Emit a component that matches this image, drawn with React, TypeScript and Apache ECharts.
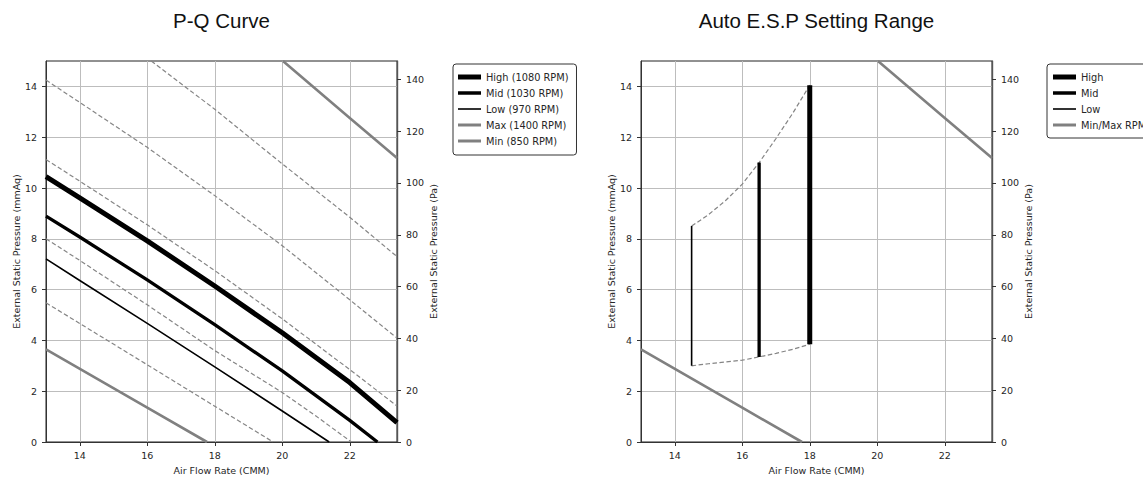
import React, { useEffect, useRef } from "react";
import * as echarts from "echarts";

// ---------- data ----------
const xTicks = [14, 16, 18, 20, 22];
const yTicksMm = [0, 2, 4, 6, 8, 10, 12, 14];
const yTicksPa = [0, 20, 40, 60, 80, 100, 120, 140];
const X_MIN = 13;
const X_MAX = 23.4;
const Y_MAX = 15;
const MM_TO_PA = 9.80665;

// P-Q curve (Air flow CMM, ESP mmAq)
const highCurve = [[13, 10.45], [14, 9.61], [16, 7.92], [18, 6.14], [20, 4.3], [22, 2.34], [23.4, 0.76]];
const midCurve = [[13, 8.89], [14, 8.07], [16, 6.38], [18, 4.62], [20, 2.8], [22, 0.85], [22.82, 0]];
const lowCurve = [[13, 7.21], [14, 6.36], [16, 4.67], [18, 2.96], [20, 1.22], [21.39, 0]];
const maxCurve = [[20.02, 15], [22, 12.76], [23.4, 11.18]];
const minCurve = [[13, 3.65], [16, 1.35], [17.77, 0]];

// additional dashed reference curves
const dashA = [[16.12, 15], [18, 13.1], [20, 10.95], [22, 8.85], [23.4, 7.3]];
const dashB = [[13, 14.25], [14, 13.37], [16, 11.6], [18, 9.7], [20, 7.73], [22, 5.6], [23.4, 4.09]];
const dashC = [[13, 11.12], [14, 10.27], [16, 8.55], [18, 6.75], [20, 4.85], [22, 2.85], [23.4, 1.42]];
const dashD = [[13, 8.0], [14, 7.15], [16, 5.4], [18, 3.6], [20, 1.95], [21, 1.02], [22.05, 0]];
const dashE = [[13, 5.48], [16, 3.04], [18, 1.41], [19.73, 0]];

// Auto E.S.P setting range
const lowRange = [[14.5, 3.0], [14.5, 8.5]];
const midRange = [[16.5, 3.35], [16.5, 11.0]];
const highRange = [[18, 3.85], [18, 14.05]];
const upperEnvelope = [[14.5, 8.5], [15, 8.95], [15.5, 9.5], [16, 10.15], [16.5, 11.0], [17, 11.95], [17.5, 12.95], [18, 14.05]];
const lowerEnvelope = [[14.5, 3.0], [15, 3.08], [15.5, 3.15], [16, 3.22], [16.5, 3.35], [17, 3.49], [17.5, 3.65], [18, 3.85]];

const titles = ["P-Q Curve", "Auto E.S.P Setting Range"];
const legendLeft = ["High (1080 RPM)", "Mid (1030 RPM)", "Low (970 RPM)", "Max (1400 RPM)", "Min (850 RPM)"];
const legendRight = ["High", "Mid", "Low", "Min/Max RPM"];

// ---------- styles ----------
const FONT = "DejaVu Sans";
const TXT = "#262626";
const GRAY = "#808080";
const DASH = "#858585";

const gridBoxes = [
  { left: 46, top: 61, width: 351, height: 382 },
  { left: 641, top: 61, width: 351, height: 382 },
];

function xAxisFor(gridIndex: number) {
  return {
    type: "value",
    gridIndex,
    min: X_MIN,
    max: X_MAX,
    name: "Air Flow Rate (CMM)",
    nameLocation: "middle",
    nameGap: 23,
    nameTextStyle: { fontFamily: FONT, fontSize: 9.5, color: TXT },
    axisLine: { show: true, onZero: false, lineStyle: { color: "#333", width: 1 } },
    axisTick: { show: true, length: 4, lineStyle: { color: "#333" }, customValues: xTicks },
    axisLabel: { fontFamily: FONT, fontSize: 9.5, color: TXT, margin: 8, customValues: xTicks },
    splitLine: { show: true, lineStyle: { color: "#bdbdbd", width: 1 } },
  };
}

function yLeftFor(gridIndex: number) {
  return {
    type: "value",
    gridIndex,
    position: "left",
    min: 0,
    max: Y_MAX,
    name: "External Static Pressure (mmAq)",
    nameLocation: "middle",
    nameRotate: 90,
    nameGap: 25,
    nameTextStyle: { fontFamily: FONT, fontSize: 9.5, color: TXT },
    axisLine: { show: true, onZero: false, lineStyle: { color: "#333", width: 1 } },
    axisTick: { show: true, length: 4, lineStyle: { color: "#333" }, customValues: yTicksMm },
    axisLabel: { fontFamily: FONT, fontSize: 9.5, color: TXT, margin: 9, customValues: yTicksMm },
    splitLine: { show: true, lineStyle: { color: "#bdbdbd", width: 1 } },
  };
}

function yRightFor(gridIndex: number) {
  return {
    type: "value",
    gridIndex,
    position: "right",
    min: 0,
    max: Y_MAX * MM_TO_PA,
    name: "External Static Pressure (Pa)",
    nameLocation: "middle",
    nameRotate: 90,
    nameGap: 29,
    nameTextStyle: { fontFamily: FONT, fontSize: 9.5, color: TXT },
    axisLine: { show: true, onZero: false, lineStyle: { color: "#555", width: 1.4 } },
    axisTick: { show: true, length: 4, lineStyle: { color: "#333" }, customValues: yTicksPa },
    axisLabel: { fontFamily: FONT, fontSize: 9.5, color: TXT, margin: 9, customValues: yTicksPa },
    splitLine: { show: false },
  };
}

function lineSeries(name: string | undefined, data: number[][], color: string, width: number, xi: number, yi: number, dashed = false, z = 2) {
  return {
    type: "line",
    name,
    data,
    xAxisIndex: xi,
    yAxisIndex: yi,
    symbol: "none",
    showSymbol: false,
    smooth: false,
    z,
    silent: true,
    itemStyle: { color },
    lineStyle: { color, width, type: dashed ? [4.5, 2.5] : "solid", join: "round" },
    emphasis: { disabled: true },
  };
}

const iconOf = (h: number) => `path://M0,0H46V${h * 2}H0Z`;

function legendFor(names: string[], left: number, widths: number[], padding: number[]) {
  return {
    orient: "vertical",
    left,
    top: 64,
    padding,
    itemWidth: 23,
    itemHeight: 10,
    itemGap: 4,
    borderColor: "#333",
    borderWidth: 1,
    borderRadius: 3,
    backgroundColor: "#fff",
    itemStyle: { borderWidth: 0 },
    textStyle: { fontFamily: FONT, fontSize: 9.8, color: TXT, lineHeight: 12 },
    selectedMode: false,
    data: names.map((n, i) => ({ name: n, icon: iconOf(widths[i]) })),
  };
}

export default function App() {
  const ref = useRef<HTMLDivElement>(null);
  useEffect(() => {
    if (!ref.current) return;
    const chart = echarts.init(ref.current, undefined, { renderer: "svg" });
    const series: any[] = [
      // left plot dashed references
      lineSeries(undefined, dashA, DASH, 1.2, 0, 0, true, 1),
      lineSeries(undefined, dashB, DASH, 1.2, 0, 0, true, 1),
      lineSeries(undefined, dashC, DASH, 1.2, 0, 0, true, 1),
      lineSeries(undefined, dashD, DASH, 1.2, 0, 0, true, 1),
      lineSeries(undefined, dashE, DASH, 1.2, 0, 0, true, 1),
      lineSeries(legendLeft[0], highCurve, "#000", 5, 0, 0),
      lineSeries(legendLeft[1], midCurve, "#000", 3.3, 0, 0),
      lineSeries(legendLeft[2], lowCurve, "#000", 1.6, 0, 0),
      lineSeries(legendLeft[3], maxCurve, GRAY, 2.6, 0, 0),
      lineSeries(legendLeft[4], minCurve, GRAY, 2.6, 0, 0),
      // right plot
      lineSeries(undefined, upperEnvelope, DASH, 1.2, 1, 2, true, 1),
      lineSeries(undefined, lowerEnvelope, DASH, 1.2, 1, 2, true, 1),
      lineSeries(legendRight[0], highRange, "#000", 5, 1, 2),
      lineSeries(legendRight[1], midRange, "#000", 3.3, 1, 2),
      lineSeries(legendRight[2], lowRange, "#000", 1.6, 1, 2),
      lineSeries(legendRight[3], maxCurve, GRAY, 2.6, 1, 2),
      lineSeries(legendRight[3], minCurve, GRAY, 2.6, 1, 2),
    ];
    chart.setOption({
      animation: false,
      backgroundColor: "#fff",
      grid: gridBoxes.map((g) => ({ ...g, show: true, borderColor: "#222", borderWidth: 1, backgroundColor: "transparent", containLabel: false })),
      xAxis: [xAxisFor(0), xAxisFor(1)],
      yAxis: [yLeftFor(0), yRightFor(0), yLeftFor(1), yRightFor(1)],
      legend: [
        legendFor(legendLeft, 453, [5, 3.5, 1.6, 3, 3], [7, 8, 8, 5]),
        legendFor(legendRight, 1047, [5, 3.5, 1.6, 3], [7, 8, 7, 6]),
      ],
      graphic: [
        {
          type: "text",
          x: gridBoxes[0].left + gridBoxes[0].width / 2,
          y: 20,
          style: { text: titles[0], fontFamily: "Liberation Sans", fontSize: 20.5, fill: "#111", textAlign: "center", textVerticalAlign: "middle" },
        },
        {
          type: "text",
          x: gridBoxes[1].left + gridBoxes[1].width / 2,
          y: 20,
          style: { text: titles[1], fontFamily: "Liberation Sans", fontSize: 20.5, fill: "#111", textAlign: "center", textVerticalAlign: "middle" },
        },
      ],
      series,
    });
    return () => chart.dispose();
  }, []);
  return <div ref={ref} style={{ position: "absolute", left: 0, top: 0, width: 1143, height: 480 }} />;
}
